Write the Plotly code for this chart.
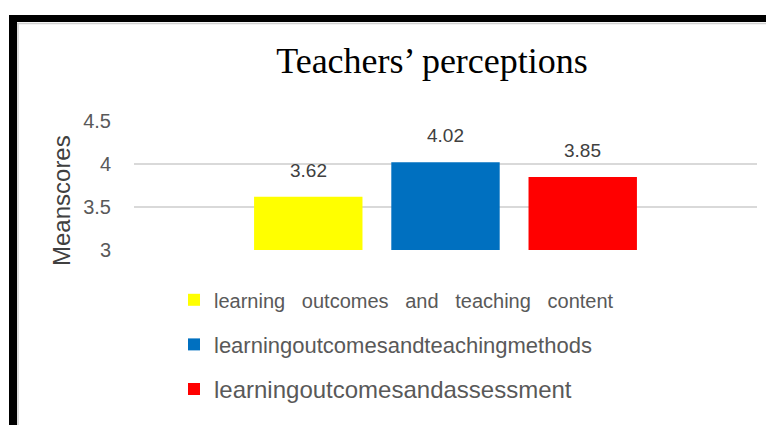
import plotly.graph_objects as go

# ---- data ----
series_names = [
    "learning   outcomes   and   teaching   content",
    "learningoutcomesandteachingmethods",
    "learningoutcomesandassessment",
]
legend_font_sizes = [20, 22, 24]
mean_scores = [3.62, 4.02, 3.85]
bar_colors = ["#FFFF00", "#0070C0", "#FF0000"]
y_ticks = [3, 3.5, 4, 4.5]
y_tick_labels = ["3", "3.5", "4", "4.5"]
chart_title = "Teachers’ perceptions"
y_title = "Meanscores"

# page body has an 8px margin; work in reference-pixel coordinates minus that
OFF = 8
W, H = 774 - OFF, 425 - OFF
L, R, T, B = 134 - OFF, 17, 121 - OFF, 175
pw, ph = W - L - R, H - T - B


def px_x(px):
    return (px - OFF - L) / pw


def px_y(py):
    return (H - B - (py - OFF)) / ph


fig = go.Figure()
for i, (name, val, col, fs) in enumerate(zip(series_names, mean_scores, bar_colors, legend_font_sizes)):
    fig.add_trace(go.Bar(
        x=[name], y=[val],
        name=f'<span style="font-size:{fs}px">{name}</span>',
        marker=dict(color=col, line=dict(width=0)),
        legendgroup=f"g{i}", hoverinfo="skip",
    ))
    fig.add_annotation(
        x=name, y=val, text=f"{val:.2f}", showarrow=False,
        xref="x", yref="y", yanchor="bottom", yshift=14,
        font=dict(family="Liberation Sans, Arial", size=19, color="#404040"),
    )

grid = "#D9D9D9"
fig.update_layout(
    width=W, height=H,
    margin=dict(l=L, r=R, t=T, b=B),
    paper_bgcolor="white", plot_bgcolor="white",
    barmode="overlay", bargap=0.21,
    title=dict(
        text=chart_title, x=(432 - OFF) / W, xref="container", xanchor="center",
        y=(H - (60 - OFF)) / H, yref="container", yanchor="middle",
        font=dict(family="Liberation Serif, Times New Roman", size=36, color="black"),
    ),
    xaxis=dict(
        type="category", range=[-1.27, 3.27], showticklabels=False,
        showgrid=False, zeroline=False, showline=False, ticks="",
    ),
    yaxis=dict(
        range=[3, 4.5], tickvals=y_ticks, ticktext=y_tick_labels,
        showgrid=True, gridcolor=grid, gridwidth=1.5, zeroline=False,
        showline=False, ticks="", ticklabelstandoff=22,
        tickfont=dict(family="Liberation Sans, Arial", size=20, color="#595959"),
    ),
    legend=dict(
        orientation="v", x=px_x(174), xanchor="left", y=px_y(279), yanchor="top",
        font=dict(family="Liberation Sans, Arial", size=22, color="#595959"),
        tracegroupgap=13, bgcolor="rgba(0,0,0,0)", itemclick=False,
    ),
    showlegend=True,
)

fig.add_annotation(
    text=y_title, textangle=-90, showarrow=False,
    xref="paper", yref="paper", x=px_x(61), y=px_y(201),
    xanchor="center", yanchor="middle",
    font=dict(family="Liberation Sans, Arial", size=24, color="#404040"),
)

# frame lines (black border top/left plus thin gray inner border)
fig.add_shape(type="rect", xref="paper", yref="paper",
              x0=px_x(9), x1=px_x(790), y0=px_y(22), y1=px_y(15),
              fillcolor="black", line=dict(width=0), layer="above")
fig.add_shape(type="rect", xref="paper", yref="paper",
              x0=px_x(9), x1=px_x(17), y0=px_y(440), y1=px_y(15),
              fillcolor="black", line=dict(width=0), layer="above")
fig.add_shape(type="line", xref="paper", yref="paper",
              x0=px_x(17), x1=px_x(790), y0=px_y(23.5), y1=px_y(23.5),
              line=dict(color="#D0D0D0", width=1.5))
fig.add_shape(type="line", xref="paper", yref="paper",
              x0=px_x(18), x1=px_x(18), y0=px_y(23), y1=px_y(440),
              line=dict(color="#D0D0D0", width=1.5))

fig.write_html("out.html")
